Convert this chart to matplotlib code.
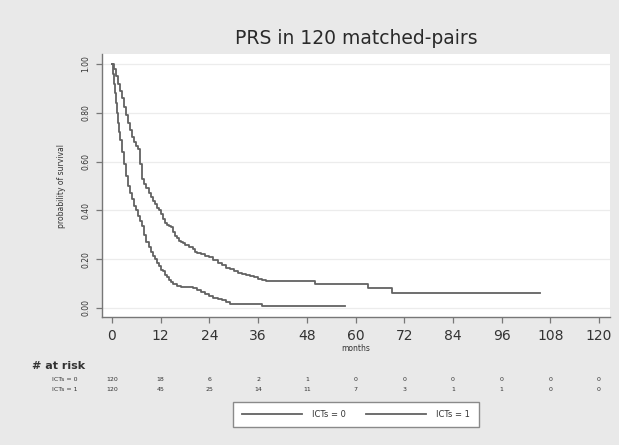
import matplotlib
matplotlib.use("Agg")
import matplotlib.pyplot as plt
import matplotlib.transforms as mtransforms

# Kaplan-Meier step estimates (months, survival probability)
t_icts0 = [0, 0.25, 0.5, 0.75, 1, 1.25, 1.5, 1.75, 2,
           2.5, 3, 3.5, 4, 4.5, 5, 5.5, 6, 6.5, 7, 7.5, 8, 8.5, 9, 9.5, 10,
           10.5, 11, 11.5, 12, 12.5, 13, 13.5, 14, 14.5, 15,
           16, 17, 18, 20, 21, 22, 23, 24, 25, 26, 27, 28, 29, 37]
s_icts0 = [1.0, 0.96, 0.92, 0.88, 0.84, 0.80, 0.76, 0.72, 0.69,
           0.64, 0.59, 0.54, 0.50, 0.47, 0.445, 0.42, 0.40, 0.375, 0.355,
           0.335, 0.30, 0.27, 0.25, 0.23, 0.215, 0.20, 0.185, 0.17, 0.155,
           0.15, 0.135, 0.125, 0.115, 0.105, 0.10,
           0.092, 0.087, 0.085, 0.08, 0.075, 0.067, 0.058, 0.05, 0.042,
           0.038, 0.033, 0.025, 0.017, 0.008]
end_icts0 = 57.5

t_icts1 = [0, 0.5, 1, 1.5, 2, 2.5, 3, 3.5, 4, 4.5, 5, 5.5, 6, 6.5, 7, 7.5,
           8, 8.5, 9, 9.5, 10, 10.5, 11, 11.5, 12, 12.5, 13, 13.5, 14, 14.5,
           15, 15.5, 16, 16.5, 17, 17.5, 18,
           19, 20, 20.5, 21, 22, 23, 24,
           25, 26, 27, 28, 29, 30, 31, 32, 33, 34, 35, 36, 37,
           38, 50, 63, 69]
s_icts1 = [1.0, 0.98, 0.95, 0.92, 0.89, 0.86, 0.825, 0.79, 0.76, 0.73,
           0.70, 0.68, 0.665, 0.65, 0.59, 0.53, 0.51, 0.49, 0.47, 0.455,
           0.44, 0.425, 0.41, 0.40, 0.385, 0.365, 0.35, 0.34, 0.335, 0.33,
           0.31, 0.295, 0.285, 0.275, 0.27, 0.265, 0.26,
           0.25, 0.24, 0.23, 0.225, 0.22, 0.215, 0.21,
           0.195, 0.185, 0.175, 0.165, 0.16, 0.15, 0.145, 0.14, 0.135, 0.13,
           0.125, 0.12, 0.115,
           0.11, 0.10, 0.083, 0.06]
end_icts1 = 105.5

# Number at risk table
risk_times = [0, 12, 24, 36, 48, 60, 72, 84, 96, 108, 120]
risk_icts0 = [120, 18, 6, 2, 1, 0, 0, 0, 0, 0, 0]
risk_icts1 = [120, 45, 25, 14, 11, 7, 3, 1, 1, 0, 0]

group_labels = ["ICTs = 0", "ICTs = 1"]
x_ticks = list(range(0, 121, 12))
y_ticks = [0.0, 0.2, 0.4, 0.6, 0.8, 1.0]

W, H = 619, 445
BG = "#e9e9e9"
LINE = "#626262"
TXT = "#333333"


def fx(px):
    return px / W


def fy(py):
    return 1 - py / H


fig = plt.figure(figsize=(W / 100, H / 100), dpi=100, facecolor=BG)
ax = fig.add_axes([fx(102), fy(317), fx(610) - fx(102), fy(54) - fy(317)])
ax.set_facecolor("white")

for t, s, end in [(t_icts0, s_icts0, end_icts0), (t_icts1, s_icts1, end_icts1)]:
    ax.plot(list(t) + [end], list(s) + [s[-1]], drawstyle="steps-post",
            color=LINE, lw=1.3)

ax.set_xlim(-2.46, 122.7)
ax.set_ylim(-0.037, 1.041)
ax.set_xticks(x_ticks)
ax.set_yticks(y_ticks)
ax.set_yticklabels([f"{v:.2f}" for v in y_ticks])
ax.grid(axis="y", color="#ececec", lw=0.9)
ax.set_axisbelow(True)

for side in ["top", "right"]:
    ax.spines[side].set_visible(False)
for side in ["left", "bottom"]:
    ax.spines[side].set_color("#777777")
    ax.spines[side].set_linewidth(1.0)

ax.tick_params(axis="x", length=4, width=0.9, color="#777777", pad=5,
               labelsize=10, labelcolor=TXT)
ax.tick_params(axis="y", length=4.5, width=0.9, color="#777777", pad=4,
               labelsize=5.5, labelcolor=TXT, labelrotation=90)
for lbl in ax.get_yticklabels():
    lbl.set_va("center")

ax.set_xlabel("months", fontsize=5.5, color=TXT)
ax.xaxis.set_label_coords(0.5, (317 - 344) / 263)
ax.set_ylabel("probability of survival", fontsize=5.5, color=TXT)
ax.yaxis.set_label_coords((66 - 102) / 508, 0.5)

fig.text(fx(356), fy(38), "PRS in 120 matched-pairs", ha="center",
         va="center", fontsize=13.5, color="#2a2a2a")

# Number-at-risk table aligned with the x axis ticks
blend = mtransforms.blended_transform_factory(ax.transData, fig.transFigure)
fig.text(fx(32), fy(366), "# at risk", ha="left", va="center",
         fontsize=8, fontweight="bold", color=TXT)
for row_y, label, counts in [(379.5, group_labels[0], risk_icts0),
                             (389.5, group_labels[1], risk_icts1)]:
    fig.text(fx(77), fy(row_y), label, ha="right", va="center",
             fontsize=4.5, color=TXT)
    for t, n in zip(risk_times, counts):
        fig.text(t, fy(row_y), str(n), ha="center", va="center",
                 fontsize=4.5, color=TXT, transform=blend)

handles = [plt.Line2D([], [], color=LINE, lw=1.3) for _ in group_labels]
leg = fig.legend(handles, group_labels, loc="center",
                 bbox_to_anchor=(fx(356), fy(414.5)), ncol=2, fontsize=6,
                 frameon=True, fancybox=False, edgecolor="#8a8a8a",
                 facecolor="white", framealpha=1, handlelength=7.2,
                 handletextpad=1.2, columnspacing=2.5, borderpad=1.0)
leg.get_frame().set_linewidth(1.0)
for txt in leg.get_texts():
    txt.set_color(TXT)

fig.savefig("out.png", dpi=100, facecolor=BG)
